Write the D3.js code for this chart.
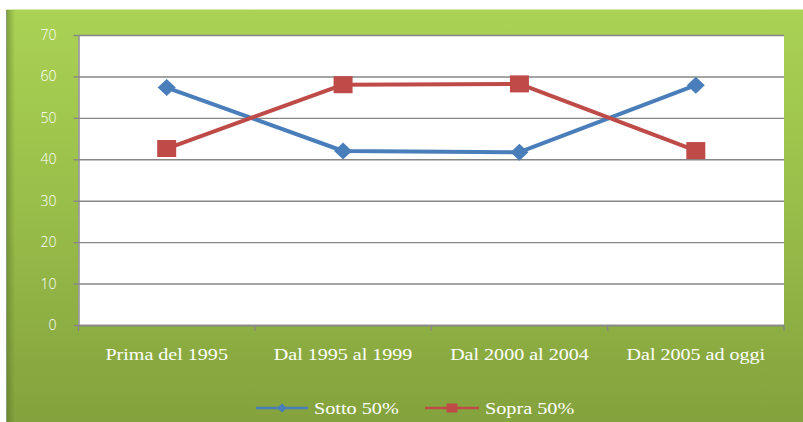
<!DOCTYPE html>
<html><head><meta charset="utf-8">
<script src="https://cdn.jsdelivr.net/npm/d3@7"></script>
<style>
html,body{margin:0;padding:0;background:#fff;}
svg{display:block;}
</style></head>
<body>
<svg id="chart" width="803" height="422"></svg>
<script>
const categories = ["Prima del 1995", "Dal 1995 al 1999", "Dal 2000 al 2004", "Dal 2005 ad oggi"];
const sotto = [57.3, 42.0, 41.7, 57.9];
const sopra = [42.6, 58.0, 58.2, 42.1];
const seriesNames = ["Sotto 50%", "Sopra 50%"];
const yTicks = [0, 10, 20, 30, 40, 50, 60, 70];

(function(){
const svg = d3.select("#chart");
const W = 803, H = 422;
const defs = svg.append("defs");
const bg = defs.append("linearGradient").attr("id","bg").attr("x1",0).attr("y1",0).attr("x2",0).attr("y2",1);
bg.append("stop").attr("offset","0%").attr("stop-color","#aad254");
bg.append("stop").attr("offset","45%").attr("stop-color","#9abf4a");
bg.append("stop").attr("offset","100%").attr("stop-color","#84a23d");
const lshade = defs.append("linearGradient").attr("id","lshade").attr("x1",0).attr("y1",0).attr("x2",1).attr("y2",0);
lshade.append("stop").attr("offset","0%").attr("stop-color","#4f6a25").attr("stop-opacity",0.45);
lshade.append("stop").attr("offset","100%").attr("stop-color","#4f6a25").attr("stop-opacity",0);

// background panel
svg.append("rect").attr("x",0).attr("y",0).attr("width",W).attr("height",H).attr("fill","#fff");
svg.append("rect").attr("x",6).attr("y",9.5).attr("width",W-6).attr("height",H-9.5).attr("fill","url(#bg)");
svg.append("rect").attr("x",7).attr("y",9.5).attr("width",8).attr("height",H-9.5).attr("fill","url(#lshade)");
svg.append("line").attr("x1",6.5).attr("x2",6.5).attr("y1",9.5).attr("y2",H).attr("stroke","#8a9a72").attr("stroke-width",1);
svg.append("line").attr("x1",6).attr("x2",W).attr("y1",9.5).attr("y2",9.5).attr("stroke","#d7e8b8").attr("stroke-width",1);

const pLeft = 78.5, pRight = 784, pTop = 35, pBottom = 325;
const x = d3.scaleBand().domain(categories).range([pLeft, pRight]);
const y = d3.scaleLinear().domain([0, 70]).range([pBottom, pTop]);

// plot area
svg.append("rect").attr("x",pLeft).attr("y",pTop).attr("width",pRight-pLeft).attr("height",pBottom-pTop).attr("fill","#fff");

// gridlines
const grid = svg.append("g").attr("transform",`translate(${pLeft},0)`)
  .call(d3.axisLeft(y).tickValues(yTicks).tickSize(-(pRight-pLeft)).tickFormat(""));
grid.select(".domain").remove();
grid.selectAll("line").attr("stroke","#868686").attr("stroke-width",1.4);

// y axis
const yAxis = svg.append("g").attr("transform",`translate(${pLeft},0)`)
  .call(d3.axisLeft(y).tickValues(yTicks).tickSize(5).tickPadding(17).tickSizeOuter(0));
yAxis.select(".domain").attr("stroke","#868686").attr("stroke-width",1.4);
yAxis.selectAll("line").attr("stroke","#868686").attr("stroke-width",1.4);
yAxis.selectAll("text").attr("fill","#fff").attr("font-family","'Open Sans', sans-serif")
  .attr("font-size",14).attr("font-weight",300);

// x axis
const xAxis = svg.append("g").attr("transform",`translate(0,${pBottom})`)
  .call(d3.axisBottom(x).tickSize(0).tickPadding(0));
xAxis.select(".domain").attr("stroke","#868686").attr("stroke-width",1.4);
xAxis.selectAll(".tick line").remove();
const bounds = d3.range(categories.length + 1).map(i => x.range()[0] + i * x.step());
xAxis.selectAll(".btick").data(bounds).join("line").attr("class","btick")
  .attr("x1",d=>d).attr("x2",d=>d).attr("y1",0).attr("y2",6)
  .attr("stroke","#868686").attr("stroke-width",1.4);
const sx = 1.18;
xAxis.selectAll(".tick").each(function(d){
  const g = d3.select(this);
  const tx = x(d) + x.bandwidth()/2;
  g.attr("transform", `translate(${tx},0) scale(${sx},1)`);
});
xAxis.selectAll(".tick text").attr("fill","#fff").attr("font-family","'Liberation Serif', serif")
  .attr("font-size",17).attr("y",35).attr("dy",0);

const cx = d => x(d) + x.bandwidth()/2;
const line = d3.line().x((d,i)=>cx(categories[i])).y(d=>y(d));
const colors = ["#4a7ebb", "#be4b48"];

[sotto, sopra].forEach((vals, si) => {
  svg.append("path").datum(vals).attr("d", line).attr("fill","none")
    .attr("stroke", colors[si]).attr("stroke-width",4).attr("stroke-linejoin","round");
});
// markers
svg.selectAll(".dia").data(sotto).join("path").attr("class","dia")
  .attr("d","M0,-8.5L9,0L0,8.5L-9,0Z")
  .attr("transform",(d,i)=>`translate(${cx(categories[i])},${y(d)})`).attr("fill",colors[0]);
svg.selectAll(".sq").data(sopra).join("rect").attr("class","sq")
  .attr("x",(d,i)=>cx(categories[i])-9.5).attr("y",d=>y(d)-8.5)
  .attr("width",19).attr("height",17).attr("fill",colors[1]);

// legend
const legendY = 408;
const items = [{x0:256, x1:308, tx:314}, {x0:425, x1:479, tx:485}];
seriesNames.forEach((name, i) => {
  const it = items[i];
  svg.append("line").attr("x1",it.x0).attr("x2",it.x1).attr("y1",legendY).attr("y2",legendY)
    .attr("stroke",colors[i]).attr("stroke-width",2.5);
  const mx = (it.x0+it.x1)/2;
  if (i === 0) {
    svg.append("path").attr("d","M0,-4.5L5,0L0,4.5L-5,0Z").attr("transform",`translate(${mx},${legendY})`).attr("fill",colors[0]);
  } else {
    svg.append("rect").attr("x",mx-5.5).attr("y",legendY-4.5).attr("width",11).attr("height",9).attr("fill",colors[1]);
  }
  svg.append("text").attr("transform",`translate(${it.tx},${legendY+5.5}) scale(1.19,1)`)
    .attr("fill","#fff").attr("font-family","'Liberation Serif', serif").attr("font-size",17)
    .text(name);
});
})();
</script>
</body></html>
